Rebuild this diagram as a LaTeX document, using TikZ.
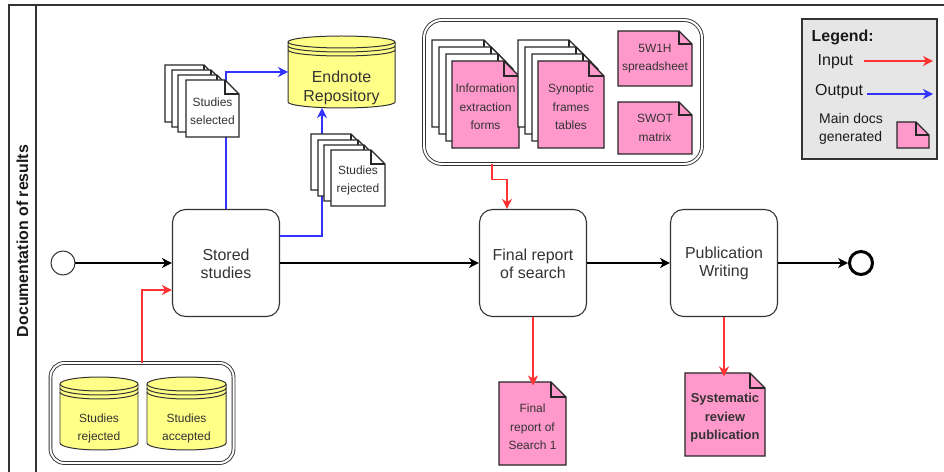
\documentclass[tikz,border=0pt]{standalone}
\usepackage{fontspec}
\setmainfont{Liberation Sans}
\usetikzlibrary{arrows.meta,calc}

\definecolor{inred}{HTML}{FF3333}
\definecolor{outblue}{HTML}{3333FF}
\definecolor{docpink}{HTML}{FF99CC}
\definecolor{dsyellow}{HTML}{FFFF88}
\definecolor{legfill}{HTML}{E6E6E6}
\definecolor{inkgray}{HTML}{333333}

% document sheet with a folded top-right corner: x, y (top left), w, h, fold, fill
\newcommand{\docshape}[6]{%
  \filldraw[docline, fill=#6] (#1,#2) -- (#1+#3-#5,#2) -- (#1+#3,#2+#5)
     -- (#1+#3,#2+#4) -- (#1,#2+#4) -- cycle;
  \draw[docline] (#1+#3-#5,#2) -- (#1+#3-#5,#2+#5) -- (#1+#3,#2+#5);}

% named document: name, x, y, w, h, fold, fill, text, extra style
\newcommand{\docnode}[9]{%
  \docshape{#2}{#3}{#4}{#5}{#6}{#7}
  \node[doctext,minimum width=#4bp,minimum height=#5bp,#9] (#1) at (#2+#4/2,#3+#5/2) {#8};}

% data store cylinder: name, left, top, width, height, ellipse radius, text centre y, text, text font
\newcommand{\datastore}[9]{%
  \filldraw[dsline, fill=dsyellow] (#2,#3+#6) -- (#2,#3+#5-#6)
     arc[start angle=180,end angle=360,x radius={#4/2*1bp},y radius={#6*1bp}]
     -- (#2+#4,#3+#6)
     arc[start angle=0,end angle=180,x radius={#4/2*1bp},y radius={#6*1bp}] -- cycle;
  \foreach \d in {0,4,8}
    \draw[dsline] (#2,#3+#6+\d)
      arc[start angle=180,end angle=360,x radius={#4/2*1bp},y radius={#6*1bp}];
  \node[inner sep=0pt,outer sep=0pt,minimum width=#4bp,minimum height=#5bp] (#1) at (#2+#4/2,#3+#5/2) {};
  \node[dstext,font=#9] (#1-label) at (#2+#4/2,#7) {#8};}

\begin{document}
\begin{tikzpicture}[x=1bp,y=-1bp,
  frame/.style={draw=inkgray, line width=1.3pt},
  task/.style={draw=inkgray, line width=1.1pt, rounded corners=13bp,
    minimum width=107bp, minimum height=107bp, align=center, text=inkgray,
    font=\fontsize{16}{18}\selectfont},
  flow/.style={draw=black, line width=1.2pt, -{Stealth[length=10pt,width=10pt,inset=3pt]}},
  inarrow/.style={draw=inred, line width=1.3pt, -{Stealth[length=10pt,width=10pt,inset=3pt]}},
  outarrow/.style={draw=outblue, line width=1.3pt, -{Stealth[length=10pt,width=10pt,inset=3pt]}},
  docline/.style={draw=black!85, line width=1.1pt},
  dsline/.style={draw=black!80, line width=1pt},
  grp/.style={draw=inkgray, double=white, double distance=2pt, line width=0.9pt},
  doctext/.style={align=center, inner sep=0pt, outer sep=0pt, text=inkgray,
    font=\fontsize{12}{18.5}\selectfont},
  dstext/.style={align=center, inner sep=0pt, text=inkgray},
  legtext/.style={anchor=west, inner sep=0pt, text=black!90, align=left}]

\useasboundingbox (0,0) rectangle (944,472);

% pool frame and lane header
\draw[frame] (944,5) -- (9,5) -- (9,472);
\draw[frame] (36,5) -- (36,472);
\node[rotate=90, font=\bfseries\fontsize{16}{18}\selectfont, text=black!90] (lane) at (22.5,241) {Documentation of results};

% groups
\node[grp, rounded corners=18bp, minimum width=278bp, minimum height=144bp] (gtop) at (563,92) {};
\node[grp, rounded corners=14bp, minimum width=183bp, minimum height=100bp] (gbot) at (142,413) {};

% events and tasks
\node[draw=inkgray, line width=1pt, circle, minimum size=24bp, inner sep=0pt] (start) at (63,263) {};
\node[task] (stored) at (226,263) {\strut Stored\\studies};
\node[task] (final) at (533,263) {\strut Final report\\of search};
\node[task] (pub) at (724,263) {\strut Publication\\Writing};
\node[draw=black, line width=3pt, circle, minimum size=23bp, inner sep=0pt] (end) at (861,263) {};

% data stores
\datastore{endnote}{288}{36}{107}{72}{6}{88}{Endnote\\Repository}{\fontsize{16}{19}\selectfont}
\datastore{srej}{60}{377}{78}{73}{7}{428.5}{Studies\\rejected}{\fontsize{12}{18.5}\selectfont}
\datastore{sacc}{147}{377}{79}{73}{7}{428.5}{Studies\\accepted}{\fontsize{12}{18.5}\selectfont}

% outputs to the repository (run behind the document stacks)
\draw[outarrow] (stored.north) |- (endnote.west);
\draw[outarrow] ($(stored.east)+(0,-27)$) -| ($(endnote.south)+(-19.5,0)$);

% studies selected
\docshape{165}{65}{53}{57}{14}{white}
\docshape{172}{70}{53}{57}{14}{white}
\docshape{178}{75}{53}{57}{14}{white}
\docnode{ssel}{186}{80}{53}{57}{14}{white}{Studies\\selected}{yshift=-2.5pt}

% studies rejected
\docshape{311}{134}{54}{56}{14}{white}
\docshape{318}{140}{54}{56}{14}{white}
\docshape{324}{145}{54}{56}{14}{white}
\docnode{sreject}{331}{150}{54}{56}{14}{white}{Studies\\rejected}{yshift=-2.5pt}

% information extraction forms
\docshape{432}{40}{67}{87}{15}{white}
\docshape{439}{47}{67}{87}{15}{white}
\docshape{446}{54}{67}{87}{15}{white}
\docnode{iforms}{452}{61}{67}{87}{15}{docpink}{Information\\extraction\\forms}{yshift=-2.5pt}

% synoptic frames tables
\docshape{518}{40}{66}{87}{15}{white}
\docshape{525}{47}{66}{87}{15}{white}
\docshape{532}{54}{66}{87}{15}{white}
\docnode{synop}{538}{61}{66}{87}{15}{docpink}{Synoptic\\frames\\tables}{yshift=-2.5pt}

\docnode{fivew}{618}{31}{74}{55}{13}{docpink}{5W1H\\spreadsheet}{}
\docnode{swot}{618}{102}{74}{52}{13}{docpink}{SWOT\\matrix}{}

% generated documents
\docnode{frdoc}{499}{382}{67}{83}{15}{docpink}{Final\\report of\\Search 1}{yshift=-3.5pt}
\docnode{srdoc}{685}{373}{80}{83}{15}{docpink}{Systematic\\review\\publication}{font=\bfseries\fontsize{13}{18.5}\selectfont,yshift=-3.5pt}

% sequence flow
\draw[flow] (start) -- (stored);
\draw[flow] (stored) -- (final);
\draw[flow] (final) -- (pub);
\draw[flow] (pub) -- (end);

% inputs
\draw[inarrow] (gbot.north) |- ($(stored.west)+(0,27)$);
\draw[inarrow] ($(gtop.south)+(-71,0)$) -- ++(0,15) -| ($(final.north)+(-26,0)$);
\draw[inarrow] (final.south) -- (final.south |- frdoc.north);
\draw[inarrow] (pub.south) -- (pub.south |- srdoc.north);

% legend
\node[draw=inkgray, fill=legfill, line width=1.1pt, minimum width=135bp, minimum height=140bp, inner sep=0pt] (legend) at (869.5,89) {};
\node[legtext, font=\bfseries\fontsize{16}{18}\selectfont] (legtitle) at (811.5,37) {Legend:};
\node[legtext, font=\fontsize{16}{18}\selectfont] (leginput) at (817.5,62) {Input};
\node[legtext, font=\fontsize{16}{18}\selectfont] (legoutput) at (815,92) {Output};
\node[legtext, font=\fontsize{14}{18}\selectfont] (legdocs) at (819,129) {Main docs\\generated};
\coordinate (inS) at (864,61);
\coordinate (inE) at (933,61);
\coordinate (outS) at (867,94);
\coordinate (outE) at (933,94);
\draw[inarrow] (inS) -- (inE);
\draw[outarrow] (outS) -- (outE);
\docshape{897}{122}{32}{26}{13}{docpink}

\end{tikzpicture}
\end{document}
